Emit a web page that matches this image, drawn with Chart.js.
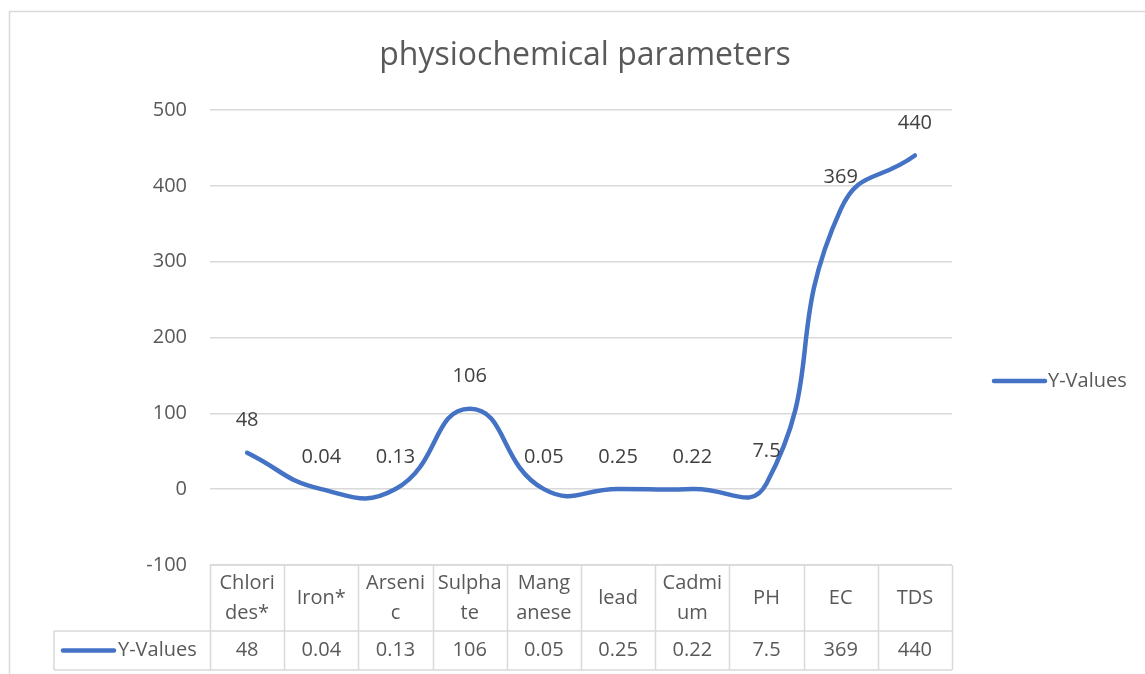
<!DOCTYPE html>
<html>
<head>
<meta charset="utf-8">
<script src="https://cdn.jsdelivr.net/npm/chart.js@4/dist/chart.umd.min.js"></script>
<style>
  html, body { margin: 0; padding: 0; background: #fff; }
  #wrap { width: 1145px; height: 674px; }
</style>
</head>
<body>
<div id="wrap"><canvas id="chart" width="1145" height="674"></canvas></div>
<script>
// chart data
var categories = [['Chlori', 'des*'], ['Iron*'], ['Arseni', 'c'], ['Sulpha', 'te'], ['Mang', 'anese'],
                  ['lead'], ['Cadmi', 'um'], ['PH'], ['EC'], ['TDS']];
var yValues = [48, 0.04, 0.13, 106, 0.05, 0.25, 0.22, 7.5, 369, 440];
var seriesName = 'Y-Values';
var chartTitle = 'physiochemical parameters';
var yTicks = [-100, 0, 100, 200, 300, 400, 500];

var lineColor = '#4472C4';
var gridColor = '#d9d9d9';
var textColor = '#595959';
var fontFamily = '"Open Sans", sans-serif';

// outer border + title of the chart object
var borderPlugin = {
  id: 'outerBorder',
  beforeDraw: function(chart) {
    var ctx = chart.ctx;
    ctx.save();
    ctx.fillStyle = '#fff';
    ctx.fillRect(0, 0, chart.width, chart.height);
    ctx.strokeStyle = gridColor;
    ctx.lineWidth = 1.5;
    ctx.strokeRect(9.5, 11.5, chart.width + 20, chart.height + 20);
    // title is centred on the whole chart object, not the plot
    ctx.font = '32px ' + fontFamily;
    ctx.fillStyle = textColor;
    ctx.textAlign = 'center';
    ctx.textBaseline = 'middle';
    ctx.fillText(chartTitle, 585, 56);
    ctx.restore();
  }
};

// value labels above each point
var labelPlugin = {
  id: 'valueLabels',
  afterDatasetsDraw: function(chart) {
    var ctx = chart.ctx;
    var meta = chart.getDatasetMeta(0);
    ctx.save();
    ctx.font = '20px ' + fontFamily;
    ctx.fillStyle = '#404040';
    ctx.textAlign = 'center';
    ctx.textBaseline = 'middle';
    meta.data.forEach(function(pt, i) {
      ctx.fillText(String(yValues[i]), pt.x, pt.y - 32);
    });
    ctx.restore();
  }
};

// data table under the plot + legend on the right
var tablePlugin = {
  id: 'dataTable',
  afterDraw: function(chart) {
    var ctx = chart.ctx;
    var area = chart.chartArea;
    var xs = chart.scales.x;
    var n = categories.length;
    var w = (area.right - area.left) / n;
    var top = area.bottom;
    var mid = top + 66;
    var bot = top + 105;
    var legLeft = 54;

    ctx.save();
    ctx.strokeStyle = gridColor;
    ctx.lineWidth = 1.5;
    ctx.beginPath();
    ctx.moveTo(area.left, top); ctx.lineTo(area.right, top);
    ctx.moveTo(legLeft, mid); ctx.lineTo(area.right, mid);
    ctx.moveTo(legLeft, bot); ctx.lineTo(area.right, bot);
    ctx.moveTo(legLeft, mid); ctx.lineTo(legLeft, bot);
    for (var i = 0; i <= n; i++) {
      var bx = Math.round(area.left + i * w) + 0.5;
      ctx.moveTo(bx, top); ctx.lineTo(bx, bot);
    }
    ctx.stroke();

    ctx.font = '20px ' + fontFamily;
    ctx.fillStyle = textColor;
    ctx.textAlign = 'center';
    ctx.textBaseline = 'middle';
    for (var j = 0; j < n; j++) {
      var cx = xs.getPixelForValue(j);
      var lines = categories[j];
      var lh = 30;
      var y0 = (top + mid) / 2 - (lines.length - 1) * lh / 2;
      lines.forEach(function(t, k) {
        ctx.fillText(t, cx, y0 + k * lh);
      });
      ctx.fillText(String(yValues[j]), cx, (mid + bot) / 2);
    }

    // legend key inside the table
    var ly = (mid + bot) / 2;
    ctx.strokeStyle = lineColor;
    ctx.lineWidth = 4.5;
    ctx.lineCap = 'round';
    ctx.beginPath();
    ctx.moveTo(63, ly); ctx.lineTo(114, ly);
    ctx.stroke();
    ctx.textAlign = 'left';
    ctx.fillText(seriesName, 118, ly);

    // legend on the right
    var ry = 381;
    ctx.beginPath();
    ctx.moveTo(994, ry); ctx.lineTo(1045, ry);
    ctx.stroke();
    ctx.fillText(seriesName, 1048, ry);
    ctx.restore();
  }
};

new Chart(document.getElementById('chart'), {
  type: 'line',
  data: {
    labels: categories,
    datasets: [{
      label: seriesName,
      data: yValues,
      borderColor: lineColor,
      backgroundColor: lineColor,
      borderWidth: 4.5,
      borderCapStyle: 'round',
      tension: 0.5,
      pointRadius: 0,
      fill: false
    }]
  },
  options: {
    responsive: false,
    animation: false,
    layout: { padding: { left: 10, right: 193, top: 110, bottom: 0 } },
    plugins: {
      legend: { display: false },
      tooltip: { enabled: false },
      title: { display: false }
    },
    scales: {
      x: {
        type: 'category',
        offset: true,
        grid: { display: false },
        border: { display: false },
        ticks: { display: false },
        afterFit: function(scale) { scale.height = 109; }
      },
      y: {
        min: -100,
        max: 500,
        afterBuildTicks: function(scale) {
          scale.ticks = yTicks.map(function(v) { return { value: v }; });
        },
        grid: { color: gridColor, lineWidth: 1.5, drawTicks: false },
        border: { display: false },
        ticks: {
          color: textColor,
          padding: 23,
          font: { family: fontFamily, size: 20 }
        },
        afterFit: function(scale) { scale.width = 200; }
      }
    }
  },
  plugins: [borderPlugin, labelPlugin, tablePlugin]
});
</script>
</body>
</html>
